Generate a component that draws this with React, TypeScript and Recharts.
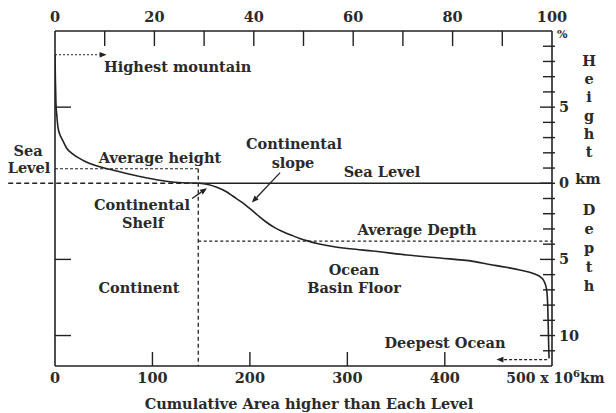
import React from 'react';
import { ComposedChart, Line, XAxis, YAxis, ReferenceLine } from 'recharts';

// ---- data (cumulative area 10^6 km², elevation km) ----
const areaValues = [
  0, 0.4, 1.0, 1.8, 3, 5, 8, 11.5, 18, 29, 45, 60, 78, 96, 114, 131, 148, 157, 166, 175,
  183, 192, 200, 208, 217, 225, 234, 243, 251, 260, 269, 285, 303, 326, 361, 395, 429, 446,
  463, 477, 487, 493, 498, 502, 504.5, 505.6, 506.2, 506.6, 507,
];
const elevationValues = [
  8.44, 6.8, 5.2, 4.5, 3.7, 3.2, 2.8, 2.35, 1.93, 1.5, 1.1, 0.85, 0.57, 0.33, 0.13, 0.03, 0, -0.08,
  -0.26, -0.52, -0.87, -1.26, -1.67, -2.1, -2.56, -2.9, -3.18, -3.42, -3.62, -3.8, -3.95, -4.15,
  -4.3, -4.45, -4.71, -4.91, -5.13, -5.33, -5.52, -5.7, -5.85, -5.98, -6.15, -6.45, -7.0, -8.0,
  -9.5, -10.7, -11.5,
];

const totalArea = 510;
const areaDomain = [0, totalArea];
const percentDomain = [0, 100];
const elevDomain = [-12, 10];

const bottomTicks = [0, 100, 200, 300, 400, 500];
const bottomTickLines = [100, 200, 300, 400];
const topTicks = [0, 10, 20, 30, 40, 50, 60, 70, 80, 90, 100];
const topLabels = [0, 20, 40, 60, 80, 100];
const rightTicks = [-11, -10, -9, -8, -7, -6, -5, -4, -3, -2, -1, 0, 1, 2, 3, 4, 5, 6, 7, 8, 9];
const rightLabels = [5, 0, -5, -10];
const leftTicks = [5, -5, -10];

// ---- annotation values ----
const continentEdge = 147;
const averageHeight = 0.95;
const averageDepth = -3.8;
const highestMountain = 8.44;
const highestArrowEnd = 53;
const deepestOcean = -11.58;
const deepestArrowStart = 505;
const deepestArrowEnd = 453;
const seaLevelLeftStart = -48;
const slopeArrow = [{ x: 231, y: 0.7 }, { x: 202, y: -1.27 }];
const shelfArrow = [{ x: 140.6, y: -1.0 }, { x: 156, y: -0.32 }];

const data = areaValues.map((a, i) => ({ area: a, pct: (a / totalArea) * 100, elev: elevationValues[i] }));

const INK = '#222';
const TEXT = '#2a2a2a';
const FONT = '"DejaVu Serif", serif';
const FS = 14.5;

const BottomTick = (props: any) => {
  const { x, y, payload } = props;
  const v = payload.value;
  return (
    <g>
      {bottomTickLines.includes(v) && <line x1={x} y1={y} x2={x} y2={y - 14} stroke={INK} strokeWidth={1.4} />}
      {v === 500 ? (
        <text x={x - 36} y={y + 17} textAnchor="start" fill={TEXT} fontFamily={FONT} fontWeight="bold" fontSize={FS - 0.5}>
          500 x 10<tspan dy={-6} fontSize={10}>6</tspan><tspan dy={6}>km</tspan>
        </text>
      ) : (
        <text x={x} y={y + 17} textAnchor="middle" fill={TEXT} fontFamily={FONT} fontWeight="bold" fontSize={FS}>
          {v}
        </text>
      )}
    </g>
  );
};

const TopTick = (props: any) => {
  const { x, y, payload } = props;
  const v = payload.value;
  return (
    <g>
      {v !== 0 && v !== 100 && <line x1={x} y1={y} x2={x} y2={y + 15} stroke={INK} strokeWidth={1.4} />}
      {topLabels.includes(v) && (
        <text x={x} y={y - 9} textAnchor="middle" fill={TEXT} fontFamily={FONT} fontWeight="bold" fontSize={FS}>
          {v}
        </text>
      )}
    </g>
  );
};

const LeftTick = (props: any) => {
  const { x, y } = props;
  return <line x1={x} y1={y} x2={x + 16} y2={y} stroke={INK} strokeWidth={1.4} />;
};

const RightTick = (props: any) => {
  const { x, y, payload } = props;
  const v = payload.value;
  const major = rightLabels.includes(v);
  return (
    <g>
      <line x1={x - (major ? 12 : 9)} y1={y} x2={x + 3} y2={y} stroke={INK} strokeWidth={1.4} />
      {major && (
        <text x={x + 7} y={y + 5} textAnchor="start" fill={TEXT} fontFamily={FONT} fontWeight="bold" fontSize={FS}>
          {Math.abs(v)}
        </text>
      )}
    </g>
  );
};

const arrowShape = (p: any) => {
  const { x1, y1, x2, y2, stroke, strokeDasharray, strokeWidth } = p;
  const ang = Math.atan2(y2 - y1, x2 - x1);
  const L = 7;
  const W = 2.8;
  const bx = x2 - L * Math.cos(ang);
  const by = y2 - L * Math.sin(ang);
  const pts = [
    [x2, y2],
    [bx + W * Math.sin(ang), by - W * Math.cos(ang)],
    [bx - W * Math.sin(ang), by + W * Math.cos(ang)],
  ]
    .map((q) => q.join(','))
    .join(' ');
  return (
    <g>
      <line x1={x1} y1={y1} x2={bx} y2={by} stroke={stroke} strokeWidth={strokeWidth} strokeDasharray={strokeDasharray} />
      <polygon points={pts} fill={stroke} />
    </g>
  );
};

const T = (p: { x: number; y: number; a?: 'start' | 'middle' | 'end'; s?: number; children: React.ReactNode }) => (
  <text x={p.x} y={p.y} textAnchor={p.a || 'middle'} fill={TEXT} fontFamily={FONT} fontWeight="bold" fontSize={p.s || FS}>
    {p.children}
  </text>
);

const heightLetters = ['H', 'e', 'i', 'g', 'h', 't'];
const depthLetters = ['D', 'e', 'p', 't', 'h'];

export default function App() {
  const refCommon = { xAxisId: 'bottom', yAxisId: 'right', ifOverflow: 'visible' as const };
  return (
    <div style={{ position: 'absolute', left: 0, top: 0, width: 616, height: 413, background: '#fff' }}>
      <ComposedChart width={616} height={413} data={data} margin={{ top: 0, right: 0, bottom: 0, left: 0 }}>
        <XAxis
          xAxisId="bottom"
          dataKey="area"
          type="number"
          domain={areaDomain}
          allowDataOverflow
          ticks={bottomTicks}
          interval={0}
          height={47}
          tickSize={0}
          tickMargin={0}
          tickLine={false}
          axisLine={{ stroke: INK, strokeWidth: 1.6 }}
          tick={<BottomTick />}
        />
        <XAxis
          xAxisId="top"
          dataKey="pct"
          orientation="top"
          type="number"
          domain={percentDomain}
          allowDataOverflow
          ticks={topTicks}
          interval={0}
          height={31}
          tickSize={0}
          tickMargin={0}
          tickLine={false}
          axisLine={{ stroke: INK, strokeWidth: 1.6 }}
          tick={<TopTick />}
        />
        <YAxis
          yAxisId="left"
          orientation="left"
          type="number"
          domain={elevDomain}
          allowDataOverflow
          ticks={leftTicks}
          interval={0}
          width={55}
          tickSize={0}
          tickMargin={0}
          tickLine={false}
          axisLine={{ stroke: INK, strokeWidth: 1.6 }}
          tick={<LeftTick />}
        />
        <YAxis
          yAxisId="right"
          orientation="right"
          type="number"
          domain={elevDomain}
          allowDataOverflow
          ticks={rightTicks}
          interval={0}
          width={64}
          tickSize={0}
          tickMargin={0}
          tickLine={false}
          axisLine={{ stroke: INK, strokeWidth: 1.6 }}
          tick={<RightTick />}
        />
        <ReferenceLine {...refCommon} segment={[{ x: seaLevelLeftStart, y: 0 }, { x: continentEdge, y: 0 }]} stroke={INK} strokeWidth={1.3} strokeDasharray="5 3" />
        <ReferenceLine {...refCommon} segment={[{ x: continentEdge, y: 0 }, { x: areaDomain[1], y: 0 }]} stroke={INK} strokeWidth={1.5} />
        <ReferenceLine {...refCommon} segment={[{ x: 0, y: averageHeight }, { x: continentEdge, y: averageHeight }]} stroke={INK} strokeWidth={1.1} strokeDasharray="3 2" />
        <ReferenceLine {...refCommon} segment={[{ x: continentEdge, y: averageHeight }, { x: continentEdge, y: elevDomain[0] }]} stroke={INK} strokeWidth={1.3} strokeDasharray="4 3" />
        <ReferenceLine {...refCommon} segment={[{ x: continentEdge, y: averageDepth }, { x: areaDomain[1], y: averageDepth }]} stroke={INK} strokeWidth={1.1} strokeDasharray="3 2.5" />
        <ReferenceLine {...refCommon} segment={[{ x: 0, y: highestMountain }, { x: highestArrowEnd, y: highestMountain }]} stroke={INK} strokeWidth={1.1} strokeDasharray="2 2" shape={arrowShape} />
        <ReferenceLine {...refCommon} segment={[{ x: deepestArrowStart, y: deepestOcean }, { x: deepestArrowEnd, y: deepestOcean }]} stroke={INK} strokeWidth={1.1} strokeDasharray="3 2" shape={arrowShape} />
        <ReferenceLine {...refCommon} segment={slopeArrow} stroke={INK} strokeWidth={1.3} shape={arrowShape} />
        <ReferenceLine {...refCommon} segment={shelfArrow} stroke={INK} strokeWidth={1.3} shape={arrowShape} />
        <Line
          xAxisId="bottom"
          yAxisId="right"
          dataKey="elev"
          type="monotone"
          stroke={INK}
          strokeWidth={1.6}
          dot={false}
          activeDot={false}
          isAnimationActive={false}
        />
      </ComposedChart>
      <svg width={616} height={413} style={{ position: 'absolute', left: 0, top: 0, pointerEvents: 'none' }}>
        <T x={104} y={72} a="start">Highest mountain</T>
        <T x={28} y={156}>Sea</T>
        <T x={29} y={173}>Level</T>
        <T x={160} y={163}>Average height</T>
        <T x={294} y={149}>Continental</T>
        <T x={293} y={168}>slope</T>
        <T x={382} y={177}>Sea Level</T>
        <T x={142} y={210}>Continental</T>
        <T x={143} y={228}>Shelf</T>
        <T x={417} y={235}>Average Depth</T>
        <T x={354} y={275}>Ocean</T>
        <T x={354} y={293}>Basin Floor</T>
        <T x={139} y={293}>Continent</T>
        <T x={445} y={348}>Deepest Ocean</T>
        <T x={309} y={409}>Cumulative Area higher than Each Level</T>
        <T x={557} y={38} a="start" s={11}>%</T>
        {heightLetters.map((c, i) => (
          <T key={'h' + i} x={589} y={66 + i * 18.2}>{c}</T>
        ))}
        <T x={588} y={184}>km</T>
        {depthLetters.map((c, i) => (
          <T key={'d' + i} x={589} y={215 + i * 19}>{c}</T>
        ))}
      </svg>
    </div>
  );
}
